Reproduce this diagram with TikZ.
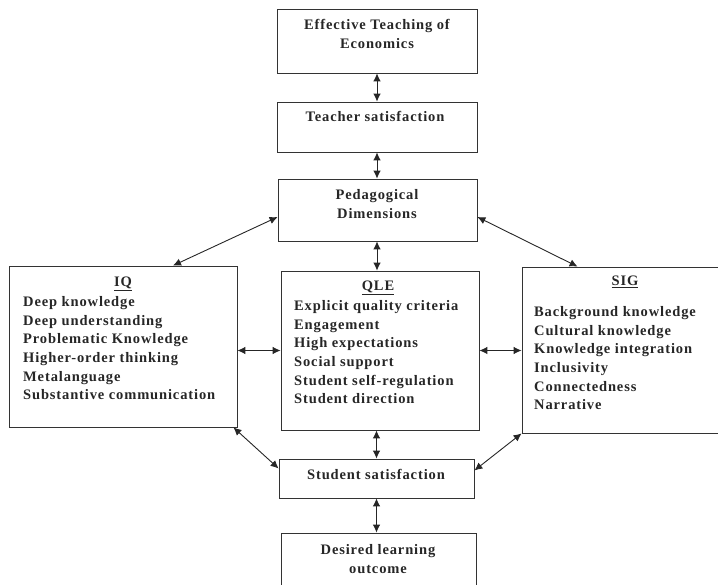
\documentclass[tikz,border=0pt]{standalone}
\usepackage{fontspec}
\setmainfont{Liberation Serif}[LetterSpace=6]
\usetikzlibrary{arrows.meta}
\usetikzlibrary{positioning}

\tikzset{
  box/.style={draw=black!80, line width=.8pt, inner sep=0pt},
  link/.style={<->, >={Latex[length=8pt,width=7.5pt]}, line width=.9pt, black!85},
  txt/.style={font=\bfseries\fontsize{14.5}{18.6}\selectfont, inner sep=0pt, text=black!85},
}

\begin{document}
\begin{tikzpicture}[x=1pt,y=-1pt]
  \useasboundingbox (0,0) rectangle (718,585);
  \clip (0,0) rectangle (718,585);

  % boxes
  \node[box, minimum width=200pt, minimum height=64pt] (eff) at (377,41) {};
  \node[box, minimum width=200pt, minimum height=50pt] (tsat) at (377,127) {};
  \node[box, minimum width=199pt, minimum height=62pt] (ped) at (377.5,210) {};
  \node[box, minimum width=228pt, minimum height=161pt] (iq) at (123,346.5) {};
  \node[box, minimum width=198pt, minimum height=159pt] (qle) at (380,350.5) {};
  \node[box, minimum width=218pt, minimum height=166pt] (sig) at (631,350) {};
  \node[box, minimum width=195pt, minimum height=39pt] (ssat) at (376.5,478.5) {};
  \node[box, minimum width=195pt, minimum height=67pt] (dlo) at (378.5,566.5) {};

  % texts
  \node[txt, align=center, anchor=north] (efftext) at (377,19.5) {Effective Teaching of\\Economics};
  \node[txt, anchor=base] (tsattext) at (375,122) {Teacher satisfaction};
  \node[txt, align=center, anchor=north] (pedtext) at (377,189.5) {Pedagogical\\Dimensions};
  \node[txt, anchor=base] (iqtitle) at (123,286.5) {\underline{IQ}};
  \node[txt, align=left, anchor=north west] (iqlist) at (23,296.5)
    {Deep knowledge\\Deep understanding\\Problematic Knowledge\\Higher-order thinking\\Metalanguage\\Substantive communication};
  \node[txt, anchor=base] (qletitle) at (378,290.5) {\underline{QLE}};
  \node[txt, align=left, anchor=north west] (qlelist) at (294,300.5)
    {Explicit quality criteria\\Engagement\\High expectations\\Social support\\Student self-regulation\\Student direction};
  \node[txt, anchor=base] (sigtitle) at (625,286) {\underline{SIG}};
  \node[txt, align=left, anchor=north west] (siglist) at (534,306.5)
    {Background knowledge\\Cultural knowledge\\Knowledge integration\\Inclusivity\\Connectedness\\Narrative};
  \node[txt, anchor=base] (ssattext) at (376,479) {Student satisfaction};
  \node[txt, align=center, anchor=north] (dlotext) at (378,544.5) {Desired learning\\outcome};

  % links
  \draw[link] (eff.south) -- (tsat.north);
  \draw[link] (tsat.south) -- (tsat.south |- ped.north);
  \draw[link] (tsat.south |- ped.south) -- (tsat.south |- qle.north);
  \draw[link] ([yshift=-7pt]ped.west) -- ([xshift=50pt]iq.north);
  \draw[link] ([yshift=-7pt]ped.east) -- ([xshift=56pt]sig.north west);
  \draw[link] (qle.west -| iq.east) -- (qle.west);
  \draw[link] (qle.east) -- (qle.east -| sig.west);
  \draw[link] (ssat.north |- qle.south) -- (ssat.north);
  \draw[link] ([xshift=-4pt]iq.south east) -- ([yshift=10pt]ssat.west);
  \draw[link] (sig.south west) -- ([yshift=8pt]ssat.east);
  \draw[link] (ssat.south) -- (ssat.south |- dlo.north);
\end{tikzpicture}
\end{document}
